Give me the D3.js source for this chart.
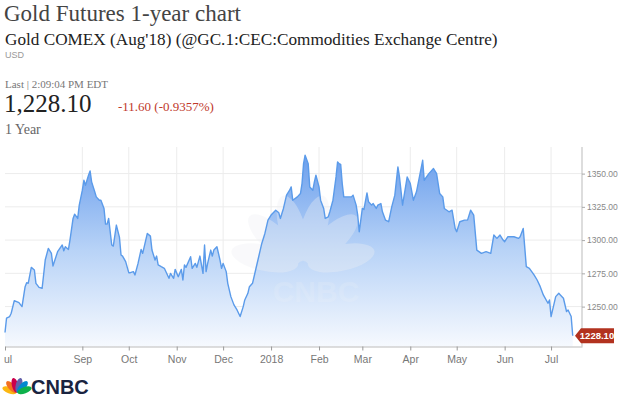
<!DOCTYPE html>
<html><head><meta charset="utf-8">
<script src="https://cdn.jsdelivr.net/npm/d3@7"></script>
<style>body{margin:0;background:#fff;} svg{display:block}</style>
</head><body><svg id="c" width="624" height="398"></svg>
<script>
const dates = ["2017-07-13","2017-07-14","2017-07-16","2017-07-17","2017-07-19","2017-07-22","2017-07-24","2017-07-26","2017-07-27","2017-07-28","2017-07-30",
"2017-08-01","2017-08-02","2017-08-04","2017-08-06","2017-08-08","2017-08-10","2017-08-12","2017-08-13","2017-08-16","2017-08-17","2017-08-19","2017-08-20","2017-08-21","2017-08-23","2017-08-24","2017-08-26","2017-08-27","2017-08-29","2017-08-30",
"2017-09-01","2017-09-02","2017-09-03","2017-09-05","2017-09-06","2017-09-07","2017-09-09","2017-09-10","2017-09-12","2017-09-13","2017-09-15","2017-09-16","2017-09-17","2017-09-18","2017-09-20","2017-09-21","2017-09-23","2017-09-25","2017-09-26","2017-09-27","2017-09-29",
"2017-10-01","2017-10-02","2017-10-04","2017-10-05","2017-10-07","2017-10-09","2017-10-10","2017-10-13","2017-10-15","2017-10-16","2017-10-18","2017-10-19","2017-10-20","2017-10-22","2017-10-24","2017-10-27","2017-10-28","2017-10-30","2017-10-31",
"2017-11-02","2017-11-04","2017-11-05","2017-11-06","2017-11-07","2017-11-10","2017-11-11","2017-11-13","2017-11-14","2017-11-16","2017-11-18","2017-11-19","2017-11-20","2017-11-21","2017-11-23","2017-11-24","2017-11-25","2017-11-27","2017-11-29","2017-11-30",
"2017-12-01","2017-12-03","2017-12-04","2017-12-06","2017-12-08","2017-12-10","2017-12-12","2017-12-14","2017-12-15","2017-12-17","2017-12-18","2017-12-20","2017-12-22","2017-12-24","2017-12-26","2017-12-28","2017-12-30",
"2018-01-01","2018-01-04","2018-01-06","2018-01-07","2018-01-09","2018-01-11","2018-01-13","2018-01-14","2018-01-15","2018-01-18","2018-01-20","2018-01-21","2018-01-22","2018-01-23","2018-01-25","2018-01-26","2018-01-28","2018-01-29","2018-01-30",
"2018-02-01","2018-02-02","2018-02-04","2018-02-05","2018-02-07","2018-02-08","2018-02-10","2018-02-12","2018-02-13","2018-02-14","2018-02-15","2018-02-16","2018-02-17","2018-02-20","2018-02-22","2018-02-23","2018-02-25","2018-02-26","2018-02-27",
"2018-03-01","2018-03-02","2018-03-04","2018-03-05","2018-03-07","2018-03-08","2018-03-10","2018-03-11","2018-03-13","2018-03-14","2018-03-16","2018-03-18","2018-03-20","2018-03-22","2018-03-24","2018-03-25","2018-03-27","2018-03-30",
"2018-04-01","2018-04-03","2018-04-05","2018-04-09","2018-04-10","2018-04-13","2018-04-16","2018-04-18","2018-04-20","2018-04-22","2018-04-23","2018-04-26","2018-04-28","2018-04-30",
"2018-05-01","2018-05-03","2018-05-06","2018-05-08","2018-05-10","2018-05-12","2018-05-14","2018-05-17","2018-05-20","2018-05-23","2018-05-25","2018-05-27","2018-05-29","2018-05-31",
"2018-06-01","2018-06-03","2018-06-07","2018-06-10","2018-06-11","2018-06-13","2018-06-15","2018-06-17","2018-06-20","2018-06-22","2018-06-24","2018-06-26","2018-06-29","2018-06-30",
"2018-07-01","2018-07-04","2018-07-06","2018-07-07","2018-07-09","2018-07-11","2018-07-12","2018-07-14","2018-07-15"];
const prices = [1230.5,1241.3,1242.5,1245,1254.5,1253,1250,1265,1268,1267.5,1279.5,
1277.5,1267.5,1264.5,1263.8,1285,1293.8,1290,1280.5,1291.3,1293,1296.3,1292,1295,1293,1300,1316.3,1319.5,1316.3,1326.3,
1337.5,1345,1341.3,1348.8,1352,1343.8,1336.3,1332.5,1330,1330,1323.8,1312,1312,1316.3,1296.3,1295.5,1311.3,1302,1288.8,1288,1283.8,
1275.5,1275.5,1276.3,1273.8,1282.5,1293,1290,1305,1303,1292.5,1285,1288,1281.3,1280,1278.8,1271.3,1275,1271.3,1278,
1272.5,1278,1270,1281.3,1279.5,1287.5,1278.8,1282.5,1279.5,1288,1275,1296.3,1276.3,1282.5,1292.5,1288,1292.5,1295,1285,1278.8,
1282.5,1276.3,1267.5,1257.5,1251.3,1247.5,1242.5,1250,1255,1260,1265,1267.5,1277.5,1287.5,1297.5,1305,1315,
1318.8,1322.5,1320.5,1316.3,1323.8,1333.8,1337.5,1340,1330,1332.5,1335,1342.5,1357.5,1363.8,1357.5,1340,1337.5,1343.8,1348.8,
1340,1330,1323.8,1316.3,1317.5,1321.3,1330,1347.5,1358.8,1357.5,1357,1342.5,1332.5,1332.5,1332.5,1333.8,1326.3,1318.8,1306.3,
1323.8,1323,1335.5,1328.8,1326.3,1327.5,1323.8,1326.3,1327.5,1321.3,1315,1313.8,1325,1333.8,1355,1347.5,1326.3,1347.5,
1342.5,1330,1336.3,1360,1345,1350,1353.8,1350,1335,1332.5,1323.8,1321.3,1322.5,1308.8,
1306.3,1313.8,1315,1315,1322.5,1318.8,1292.5,1290,1291.3,1290,1303.8,1301.3,1303.8,1300,
1298.8,1302.5,1302.5,1301.3,1302.5,1308.8,1280,1278.8,1273.8,1270,1265,1258.8,1252.5,1255,
1242.5,1257.5,1260,1258.8,1256.3,1246.3,1247.5,1242.5,1228.1];
const yTicks = [1250,1275,1300,1325,1350];
const xTickDates = ["2017-07-13","2017-09-01","2017-10-01","2017-11-01","2017-12-01","2018-01-01","2018-02-01","2018-03-01","2018-04-01","2018-05-01","2018-06-01","2018-07-01"];
const xTickLabels = ["Jul","Sep","Oct","Nov","Dec","2018","Feb","Mar","Apr","May","Jun","Jul"];
const lastPrice = 1228.10;
const domainDates = ["2017-07-13","2018-07-21"];
const domainY = [1220,1370];

const parse = d3.timeParse("%Y-%m-%d");
const data = dates.map((d,i)=>({date:parse(d), v:prices[i]}));
const svg = d3.select("#c");
const L=5, R=582, T=147, B=346.5;
const x = d3.scaleTime().domain(domainDates.map(parse)).range([L,R]);
const y = d3.scaleLinear().domain(domainY).range([B,T]);
const sans = "'Liberation Sans', Arial, sans-serif";
const serif = "'Liberation Serif', 'Times New Roman', serif";

// header texts
svg.append("text").attr("x",4).attr("y",21).attr("font-family",serif).attr("font-size",23).attr("fill","#444").text("Gold Futures 1-year chart");
svg.append("text").attr("x",5).attr("y",45).attr("font-family",serif).attr("font-size",17.2).attr("fill","#222").text("Gold COMEX (Aug'18) (@GC.1:CEC:Commodities Exchange Centre)");
svg.append("text").attr("x",5).attr("y",58).attr("font-family",sans).attr("font-size",9).attr("fill","#999").text("USD");
svg.append("text").attr("x",5).attr("y",88).attr("font-family",serif).attr("font-size",11).attr("fill","#777").text("Last | 2:09:04 PM EDT");
svg.append("text").attr("x",4).attr("y",112).attr("font-family",serif).attr("font-size",25).attr("fill","#222").text("1,228.10");
svg.append("text").attr("x",118).attr("y",111).attr("font-family",serif).attr("font-size",13).attr("fill","#c0392b").text("-11.60 (-0.9357%)");
svg.append("text").attr("x",5).attr("y",134).attr("font-family",serif).attr("font-size",14).attr("fill","#666").text("1 Year");

// gradient
const defs = svg.append("defs");
const g = defs.append("linearGradient").attr("id","fillg").attr("gradientUnits","userSpaceOnUse")
  .attr("x1",0).attr("x2",0).attr("y1",y(1365)).attr("y2",B);
g.append("stop").attr("offset",0).attr("stop-color","#6a9eec");
g.append("stop").attr("offset",0.5).attr("stop-color","#b8d3f7");
g.append("stop").attr("offset",1).attr("stop-color","#f6f9fe");
defs.append("clipPath").attr("id","lclip").append("rect").attr("x",4).attr("y",-2).attr("width",620).attr("height",40);

// grid
svg.append("g").selectAll("line").data(yTicks).join("line")
  .attr("x1",L).attr("x2",R).attr("y1",d=>y(d)).attr("y2",d=>y(d)).attr("stroke","#ececec");
svg.append("g").selectAll("line").data(xTickDates.slice(1)).join("line")
  .attr("x1",d=>x(parse(d))).attr("x2",d=>x(parse(d))).attr("y1",T).attr("y2",B).attr("stroke","#ececec");

// area
svg.append("path").datum(data).attr("fill","url(#fillg)")
  .attr("d",d3.area().x(d=>x(d.date)).y0(B).y1(d=>y(d.v)));

// watermark
const wm = svg.append("g").attr("opacity",0.35);
const cx = 303, cy = 266;
[-78,-47,-16,16,47,78].forEach(a=>{
  const r = a*Math.PI/180, ex = cx+Math.sin(r)*39, ey = cy-Math.cos(r)*39;
  wm.append("ellipse").attr("cx",ex).attr("cy",ey)
    .attr("rx",13).attr("ry",34).attr("fill","#eef0f4")
    .attr("transform",`rotate(${a},${ex},${ey})`);
});
wm.append("text").attr("x",316).attr("y",302).attr("text-anchor","middle").attr("font-family",sans)
  .attr("font-weight","bold").attr("font-size",30).attr("fill","#f2f4f8").attr("opacity",0.5).text("CNBC");

// line
svg.append("path").datum(data).attr("fill","none").attr("stroke","#5b9bea").attr("stroke-width",1.4)
  .attr("stroke-linejoin","round").attr("d",d3.line().x(d=>x(d.date)).y(d=>y(d.v)));

// axes
const xa = svg.append("g").attr("transform",`translate(0,${B})`).attr("clip-path","url(#lclip)")
  .call(d3.axisBottom(x).tickValues(xTickDates.map(parse)).tickFormat((d,i)=>xTickLabels[i]).tickSize(4).tickSizeOuter(0));
xa.select(".domain").attr("stroke","#bbb");
xa.selectAll(".tick line").attr("stroke","#999");
xa.selectAll(".tick text").attr("fill","#777").attr("font-family",sans).attr("font-size",10.5).attr("dy","0.95em");
const ya = svg.append("g").attr("transform",`translate(${R},0)`)
  .call(d3.axisRight(y).tickValues(yTicks).tickFormat(d3.format(".2f")).tickSize(3).tickSizeOuter(0));
ya.select(".domain").attr("stroke","#bbb").attr("d",`M0,${T}V${B}`);
ya.selectAll(".tick line").attr("stroke","#aaa");
ya.selectAll(".tick text").attr("fill","#888").attr("font-family",sans).attr("font-size",8.5).attr("x",5);

// last price badge
const ly = y(lastPrice);
svg.append("path").attr("fill","#b2321f")
  .attr("d",`M${R-7},${ly}L${R-1},${ly-7.5}H${R+32}V${ly+7.5}H${R-1}Z`);
svg.append("text").attr("x",R+15).attr("y",ly+3.5).attr("text-anchor","middle").attr("font-family",sans)
  .attr("font-weight","bold").attr("font-size",9.5).attr("fill","#fff").text(lastPrice.toFixed(2));

// CNBC logo
const lg = svg.append("g");
const px=17, py=393;
const cols=["#fcb711","#f37021","#cc004c","#6460aa","#0089d0","#0db14b"];
[-70,-42,-14,14,42,70].forEach((a,i)=>{
  const r=a*Math.PI/180, ex=px+Math.sin(r)*8, ey=py-Math.cos(r)*8;
  lg.append("ellipse").attr("cx",ex).attr("cy",ey).attr("rx",3.2).attr("ry",7.5).attr("fill",cols[i])
    .attr("transform",`rotate(${a},${ex},${ey})`);
});
lg.append("text").attr("x",31).attr("y",394).attr("font-family",sans).attr("font-weight","bold")
  .attr("font-size",20).attr("fill","#1a2440").text("CNBC");
</script></body></html>
